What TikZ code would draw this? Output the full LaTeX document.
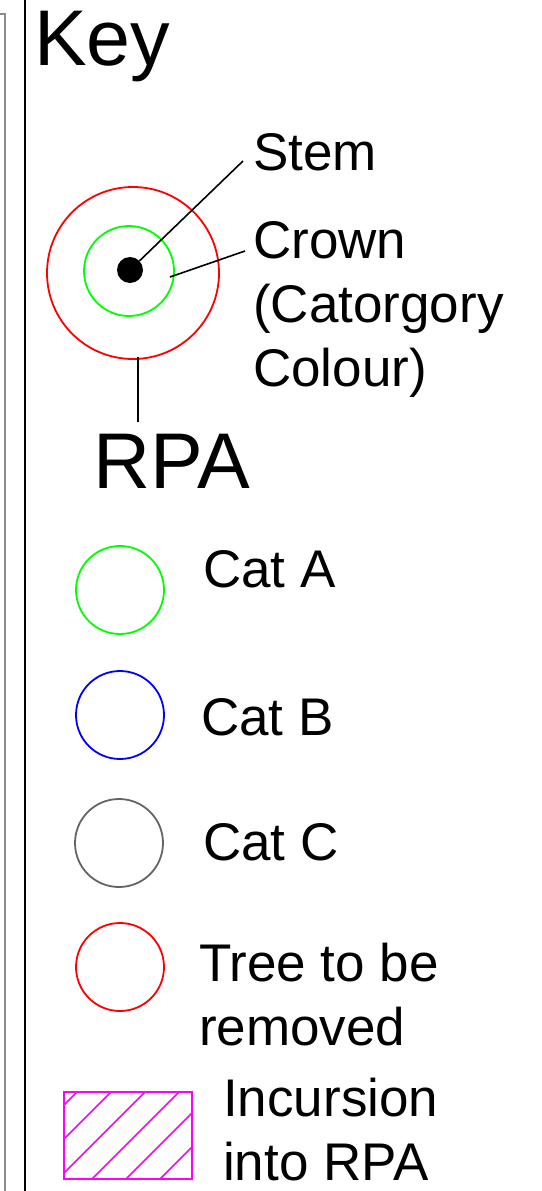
\documentclass[tikz,border=0pt]{standalone}
\usepackage{fontspec}
\setmainfont{Liberation Sans}
\definecolor{catgreen}{RGB}{0,255,0}
\definecolor{catgrey}{RGB}{100,100,100}
\definecolor{incursion}{RGB}{255,0,255}
\begin{document}
\begin{tikzpicture}[x=1pt,y=-1pt,
  ring/.style={circle,draw,line width=1.8pt,inner sep=0pt,minimum size=#1},
  leader/.style={line width=1.6pt,black},
  label/.style={anchor=base west,inner sep=0pt,align=left,font=\fontsize{53}{64}\selectfont},
  title/.style={anchor=base west,inner sep=0pt,font=\fontsize{79}{90}\selectfont},
  frame/.style={line width=2pt}]
\useasboundingbox (0,0) rectangle (541,1191);

% frame lines on the left
\draw[frame,gray!90] (0,14) -- (4.5,14) -- (4.5,1191);
\draw[frame,black] (25,0) -- (25,1191);

\node[title] (key) at (34,65) {Key};

% symbol: RPA, crown and stem
\node[ring=172pt,draw=red] (rpa) at (133,273) {};
\node[ring=90pt,draw=catgreen] (crown) at (129,271) {};
\node[circle,fill=black,inner sep=0pt,minimum size=26pt] (stem) at (130,270) {};

% multi-line labels are placed by the baseline of their last line
\node[label] (stemlbl) at (253,170) {Stem};
\node[label] (crownlbl) at (253,386) {Crown\\(Catorgory\\Colour)};
\node[title] (rpalbl) at (93,488) {RPA};

\coordinate (stemend) at (243,161);
\coordinate (crownin) at (170,277);
\coordinate (crownend) at (245,251);
\coordinate (rpain) at (138,357);
\coordinate (rpaend) at (138,422);
\draw[leader] (stem) -- (stemend);
\draw[leader] (crownin) -- (crownend);
\draw[leader] (rpain) -- (rpaend);

% categories
\node[ring=88pt,draw=catgreen] (cata) at (120,590) {};
\node[label] (catalbl) at (203,587) {Cat A};
\node[ring=88pt,draw=blue] (catb) at (120,715) {};
\node[label] (catblbl) at (201,735) {Cat B};
\node[ring=88pt,draw=catgrey] (catc) at (119,843) {};
\node[label] (catclbl) at (203,860) {Cat C};
\node[ring=88pt,draw=red] (remove) at (120,967) {};
\node[label] (removelbl) at (199,1045) {Tree to be\\removed};

% hatched incursion box
\node[draw=incursion,line width=1.8pt,minimum width=128pt,minimum height=87pt,inner sep=0pt] (incur) at (128,1135.5) {};
\begin{scope}
  \clip (64,1092) rectangle (192,1179);
  \foreach \c in {1169,1203,1237,1271,1305,1339}
    \draw[incursion,line width=1.6pt] (\c-1200,1200) -- (\c-1050,1050);
\end{scope}
\node[label] (incurlbl) at (223,1180) {Incursion\\into RPA};
\end{tikzpicture}
\end{document}
